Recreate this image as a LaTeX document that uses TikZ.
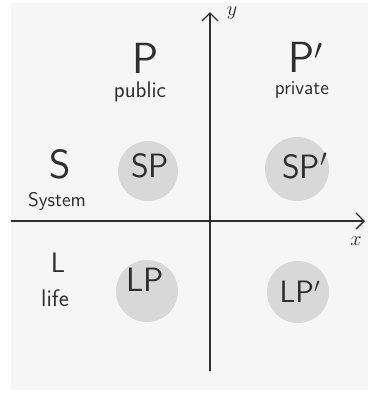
\documentclass[tikz,border=0pt]{standalone}
\usepackage{tikz}
\usetikzlibrary{arrows.meta, positioning}

\definecolor{ink}{HTML}{2E2E2E}
\definecolor{blobgray}{HTML}{D8D8D8}
\definecolor{paper}{HTML}{F6F6F6}

\begin{document}
\begin{tikzpicture}[
    x=0.25mm,  % 1 px of the sketch
    y=-0.25mm,
    >={Straight Barb[length=2mm, width=4mm]},
    axis/.style={ink, line width=1pt, ->},
    blob/.style={circle, fill=blobgray, inner sep=0pt},
    word/.style={text=ink, font=\sffamily\fontsize{#1}{#1}\selectfont},
    word/.default=14
]
    % --- paper ---
    \fill[white] (0,0) rectangle (368,393);
    \fill[paper] (11,3) rectangle (368,390);
    \useasboundingbox (0,0) rectangle (368,393);

    % --- blobs ---
    \node[blob, minimum size=15mm] (sp) at (148,171) {};
    \node[blob, minimum size=16mm] (spr) at (297,169) {};
    \node[blob, minimum size=15.5mm] (lp) at (147,291) {};
    \node[blob, minimum size=15.5mm] (lpr) at (298,292) {};

    \node[word=24] (sptext) at (150,166) {SP};
    \node[word=24] (sprtext) at (305,166) {SP$'$};
    \node[word=24] (lptext) at (145,280) {LP};
    \node[word=22] (lprtext) at (300,292) {LP$'$};

    % --- axes ---
    \coordinate (xstart) at (11,221);
    \coordinate (xend) at (365,221);
    \coordinate (ystart) at (210,371);
    \coordinate (yend) at (210,12);
    \draw[axis] (xstart) -- (xend);
    \draw[axis] (ystart) -- (yend);
    \node[text=ink, font=\fontsize{14}{14}\selectfont] (xlab) at (356,241) {$x$};
    \node[text=ink, font=\fontsize{14}{14}\selectfont] (ylab) at (232,13) {$y$};

    % --- labels ---
    \node[word=31] (pub) at (146,58) {P};
    \node[word=16] (pubtext) at (140,92) {public};
    \node[word=31] (priv) at (306,57) {P$'$};
    \node[word=14] (privtext) at (302,90) {private};
    \node[word=29] (sys) at (60,164) {S};
    \node[word=14] (systext) at (57,201) {System};
    \node[word=20] (life) at (58,263) {L};
    \node[word=17] (lifetext) at (55,298) {life};
\end{tikzpicture}
\end{document}
